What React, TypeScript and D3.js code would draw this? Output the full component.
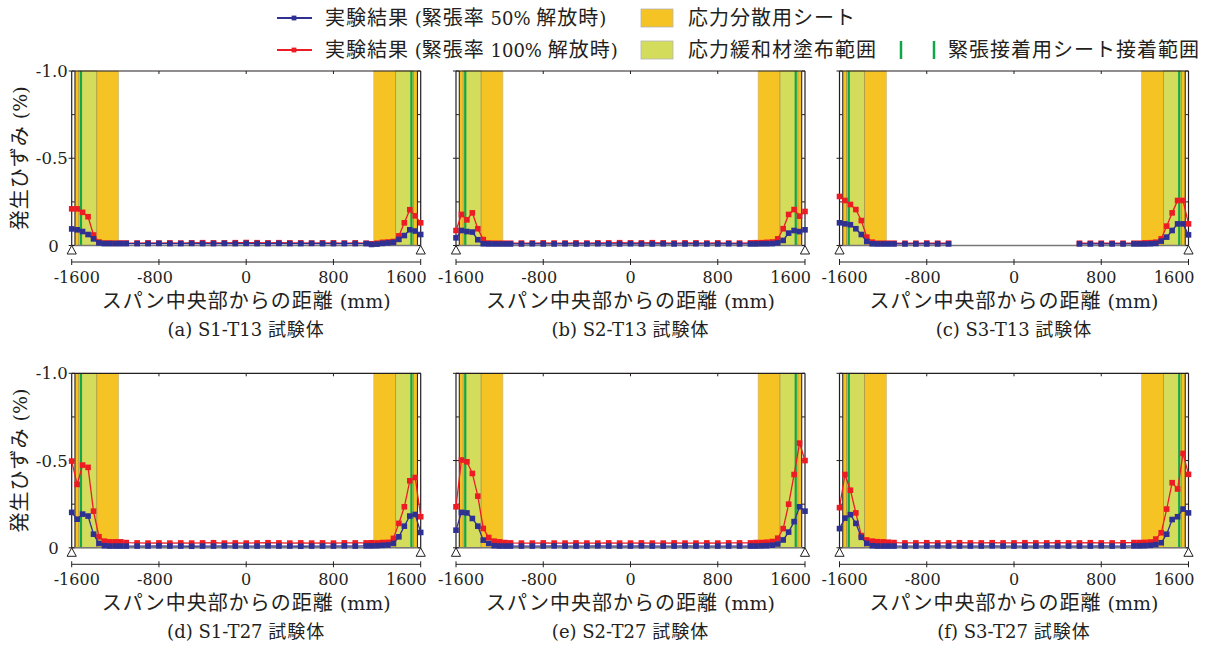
import * as d3 from "d3";

// measurement positions along the span (mm)
const xPositions = [
  -1600, -1550, -1500, -1450, -1400, -1350, -1300, -1250, -1200, -1150, -1100,
  -1000, -900, -800, -700, -600, -500, -400, -300, -200, -100, 0, 100, 200, 300,
  400, 500, 600, 700, 800, 900, 1000,
  1100, 1150, 1200, 1250, 1300, 1350, 1400, 1450, 1500, 1550, 1600,
];

// strain (%) — blue: 50% release, red: 100% release
const s1t13_50 = [
  -0.095, -0.09, -0.08, -0.063, -0.038, -0.015, -0.011, -0.011, -0.011, -0.011, -0.011,
  -0.011, -0.011, -0.012, -0.011, -0.011, -0.012, -0.011, -0.011, -0.012, -0.011, -0.012,
  -0.011, -0.011, -0.012, -0.011, -0.011, -0.012, -0.011, -0.011, -0.011, -0.011,
  -0.011, -0.006, -0.008, -0.012, -0.015, -0.018, -0.035, -0.057, -0.09, -0.083, -0.063,
];
const s1t13_100 = [
  -0.21, -0.21, -0.19, -0.165, -0.06, -0.02, -0.014, -0.014, -0.013, -0.014, -0.014,
  -0.014, -0.015, -0.014, -0.015, -0.014, -0.015, -0.016, -0.015, -0.015, -0.016, -0.017,
  -0.016, -0.015, -0.016, -0.015, -0.015, -0.014, -0.015, -0.015, -0.014, -0.015,
  -0.013, -0.01, -0.013, -0.018, -0.02, -0.023, -0.055, -0.13, -0.205, -0.17, -0.13,
];
const s2t13_50 = [
  -0.044, -0.086, -0.08, -0.077, -0.033, -0.01, -0.009, -0.009, -0.009, -0.009, -0.009,
  -0.009, -0.01, -0.009, -0.009, -0.01, -0.009, -0.009, -0.01, -0.009, -0.009, -0.01,
  -0.009, -0.009, -0.01, -0.009, -0.009, -0.01, -0.009, -0.009, -0.01, -0.009,
  -0.009, -0.009, -0.01, -0.01, -0.011, -0.015, -0.029, -0.071, -0.086, -0.08, -0.09,
];
const s2t13_100 = [
  -0.086, -0.178, -0.147, -0.187, -0.096, -0.034, -0.014, -0.013, -0.013, -0.013, -0.013,
  -0.014, -0.014, -0.015, -0.014, -0.014, -0.015, -0.014, -0.015, -0.015, -0.016, -0.015,
  -0.015, -0.016, -0.015, -0.014, -0.015, -0.015, -0.014, -0.015, -0.014, -0.014,
  -0.015, -0.016, -0.016, -0.018, -0.02, -0.038, -0.096, -0.178, -0.206, -0.168, -0.195,
];
const s3t13_50 = [
  -0.13, -0.124, -0.119, -0.096, -0.063, -0.023, -0.01, -0.009, -0.009, -0.009, -0.009,
  -0.009, -0.009, -0.009, -0.009, -0.009, null, null, null, null, null, null,
  null, null, null, null, null, -0.009, -0.009, -0.009, -0.009, -0.009,
  -0.009, -0.009, -0.009, -0.01, -0.012, -0.025, -0.048, -0.086, -0.124, -0.124, -0.061,
];
const s3t13_100 = [
  -0.281, -0.258, -0.235, -0.206, -0.143, -0.048, -0.019, -0.013, -0.013, -0.013, -0.013,
  -0.013, -0.013, -0.014, -0.013, -0.013, null, null, null, null, null, null,
  null, null, null, null, null, -0.013, -0.013, -0.013, -0.013, -0.013,
  -0.013, -0.013, -0.015, -0.016, -0.019, -0.038, -0.111, -0.187, -0.258, -0.258, -0.124,
];
const s1t27_50 = [
  -0.203, -0.164, -0.193, -0.182, -0.078, -0.025, -0.012, -0.01, -0.01, -0.01, -0.01,
  -0.01, -0.01, -0.011, -0.01, -0.01, -0.009, -0.01, -0.01, -0.011, -0.01, -0.01,
  -0.01, -0.011, -0.01, -0.01, -0.009, -0.01, -0.01, -0.01, -0.011, -0.01,
  -0.011, -0.011, -0.012, -0.014, -0.016, -0.025, -0.063, -0.124, -0.182, -0.191, -0.088,
];
const s1t27_100 = [
  -0.497, -0.363, -0.474, -0.461, -0.21, -0.063, -0.038, -0.034, -0.034, -0.034, -0.03,
  -0.028, -0.027, -0.028, -0.027, -0.028, -0.027, -0.028, -0.029, -0.027, -0.028, -0.027,
  -0.028, -0.029, -0.028, -0.027, -0.028, -0.027, -0.028, -0.027, -0.028, -0.028,
  -0.028, -0.029, -0.028, -0.03, -0.031, -0.054, -0.14, -0.235, -0.384, -0.403, -0.178,
];
const s2t27_50 = [
  -0.101, -0.203, -0.2, -0.168, -0.124, -0.044, -0.025, -0.012, -0.01, -0.01, -0.01,
  -0.01, -0.01, -0.01, -0.011, -0.01, -0.01, -0.01, -0.011, -0.01, -0.01, -0.01,
  -0.011, -0.01, -0.01, -0.01, -0.011, -0.01, -0.01, -0.01, -0.01, -0.01,
  -0.01, -0.01, -0.011, -0.012, -0.015, -0.022, -0.045, -0.09, -0.15, -0.235, -0.21,
];
const s2t27_100 = [
  -0.235, -0.503, -0.493, -0.426, -0.296, -0.111, -0.059, -0.038, -0.034, -0.03, -0.028,
  -0.027, -0.027, -0.028, -0.027, -0.027, -0.028, -0.027, -0.027, -0.028, -0.027, -0.027,
  -0.028, -0.027, -0.027, -0.028, -0.027, -0.027, -0.028, -0.027, -0.028, -0.028,
  -0.028, -0.03, -0.03, -0.032, -0.036, -0.055, -0.11, -0.25, -0.42, -0.6, -0.5,
];
const s3t27_50 = [
  -0.11, -0.17, -0.19, -0.14, -0.06, -0.025, -0.012, -0.01, -0.01, -0.01, -0.01,
  -0.01, -0.01, -0.01, -0.011, -0.01, -0.01, -0.01, -0.01, -0.011, -0.01, -0.01,
  -0.01, -0.01, -0.011, -0.01, -0.01, -0.01, -0.01, -0.011, -0.01, -0.01,
  -0.011, -0.011, -0.012, -0.014, -0.019, -0.029, -0.078, -0.162, -0.178, -0.222, -0.2,
];
const s3t27_100 = [
  -0.23, -0.42, -0.33, -0.2, -0.07, -0.045, -0.038, -0.035, -0.034, -0.032, -0.03,
  -0.028, -0.028, -0.029, -0.028, -0.028, -0.029, -0.028, -0.028, -0.029, -0.028, -0.028,
  -0.029, -0.028, -0.028, -0.029, -0.028, -0.028, -0.029, -0.028, -0.028, -0.029,
  -0.03, -0.03, -0.031, -0.033, -0.05, -0.086, -0.222, -0.373, -0.337, -0.541, -0.421,
];

const series50 = [s1t13_50, s2t13_50, s3t13_50, s1t27_50, s2t27_50, s3t27_50];
const series100 = [s1t13_100, s2t13_100, s3t13_100, s1t27_100, s2t27_100, s3t27_100];
const panelTitles = [
  "(a) S1-T13 試験体",
  "(b) S2-T13 試験体",
  "(c) S3-T13 試験体",
  "(d) S1-T27 試験体",
  "(e) S2-T27 試験体",
  "(f) S3-T27 試験体",
];

const xTicks = [-1600, -800, 0, 800, 1600];
const yTicks = [0, -0.25, -0.5, -0.75, -1.0];
const yTickLabels = [0, -0.5, -1.0];

// zones (mm)
const sheetZones = [[-1570, -1170], [1170, 1570]];
const reliefZones = [[-1535, -1370], [1370, 1535]];
const bondLines = [-1515, 1515];
const beamEnds = [-1570, 1570];

const legendSeries = ["実験結果 (緊張率 50% 解放時)", "実験結果 (緊張率 100% 解放時)"];
const legendZones = ["応力分散用シート", "応力緩和材塗布範囲"];
const legendBond = "緊張接着用シート接着範囲";
const xTitle = "スパン中央部からの距離 (mm)";
const yTitle = "発生ひずみ (%)";

const BLUE = "#2e3192";
const RED = "#ed1c24";
const ORANGE = "#f6c325";
const YGREEN = "#d4dc5c";
const GREEN = "#10a64a";

const SERIF = "'DejaVu Serif', serif";
const GOTHIC = "'Noto Sans CJK JP', sans-serif";

function Mixed({ x, y, text, latin = 16, cjk = 20, anchor = "start", transform }: any) {
  const runs = text.match(/[\u3000-\u9fff\uff00-\uffef]+|[^\u3000-\u9fff\uff00-\uffef]+/g) || [];
  return (
    <text x={x} y={y} textAnchor={anchor} transform={transform} fill="#231f20">
      {runs.map((r: string, i: number) => {
        const isCjk = /[\u3000-\u9fff\uff00-\uffef]/.test(r);
        return (
          <tspan
            key={i}
            fontFamily={isCjk ? GOTHIC : SERIF}
            fontSize={isCjk ? cjk : latin}
            letterSpacing={isCjk ? 1 : 0}
          >
            {r}
          </tspan>
        );
      })}
    </text>
  );
}

function Panel({ left, top, s50, s100, title, showY }: any) {
  const plotW = 349;
  const plotH = 174.5;
  const bottom = top + plotH;
  const x = d3.scaleLinear().domain([-1600, 1600]).range([left, left + plotW]);
  const y = d3.scaleLinear().domain([0, -1]).range([bottom, top]);

  const line = d3
    .line<any>()
    .defined((d) => d.v != null)
    .x((d) => x(d.pos))
    .y((d) => y(d.v));

  const pts50 = xPositions.map((pos, i) => ({ pos, v: s50[i] }));
  const pts100 = xPositions.map((pos, i) => ({ pos, v: s100[i] }));
  const axisY = bottom + 16.5;
  const x0 = x(-1600);
  const x1 = x(1600);
  const m = 5.6;

  return (
    <g>
      {/* zones */}
      {sheetZones.map((z, i) => (
        <rect
          key={"s" + i}
          x={x(Math.min(z[0], z[1]))}
          y={top}
          width={Math.abs(x(z[1]) - x(z[0]))}
          height={plotH}
          fill={ORANGE}
          stroke="#c9b27a"
          strokeWidth={0.6}
        />
      ))}
      {reliefZones.map((z, i) => (
        <rect
          key={"r" + i}
          x={x(Math.min(z[0], z[1]))}
          y={top}
          width={Math.abs(x(z[1]) - x(z[0]))}
          height={plotH}
          fill={YGREEN}
          stroke="#a8914a"
          strokeWidth={0.8}
        />
      ))}
      {bondLines.map((b) => (
        <line key={b} x1={x(b)} x2={x(b)} y1={top} y2={bottom} stroke={GREEN} strokeWidth={2.2} />
      ))}
      {beamEnds.map((b) => (
        <line key={b} x1={x(b)} x2={x(b)} y1={top} y2={bottom} stroke="#231f20" strokeWidth={1} />
      ))}

      {/* frame */}
      <line x1={x0} x2={x1} y1={top} y2={top} stroke="#231f20" strokeWidth={1.2} />
      <line x1={x0} x2={x1} y1={bottom} y2={bottom} stroke="#777" strokeWidth={1.5} />
      <line x1={x0} x2={x0} y1={top} y2={bottom} stroke="#231f20" strokeWidth={1.2} />
      <line x1={x1} x2={x1} y1={top} y2={bottom} stroke="#231f20" strokeWidth={1.2} />
      {xTicks.slice(1, -1).map((t) => (
        <line key={t} x1={x(t)} x2={x(t)} y1={top} y2={top + 3} stroke="#231f20" />
      ))}
      {yTicks.map((t) => (
        <g key={t}>
          <line x1={x0} x2={x0 + 3} y1={y(t)} y2={y(t)} stroke="#231f20" />
          <line x1={x1 - 3} x2={x1} y1={y(t)} y2={y(t)} stroke="#231f20" />
          {yTickLabels.includes(t) && (
            <line x1={x0 - 3} x2={x0} y1={y(t)} y2={y(t)} stroke="#231f20" />
          )}
        </g>
      ))}

      {/* series */}
      <path d={line(pts100) || ""} fill="none" stroke={RED} strokeWidth={1.3} />
      {pts100
        .filter((d) => d.v != null)
        .map((d, i) => (
          <rect key={i} x={x(d.pos) - m / 2} y={y(d.v) - m / 2} width={m} height={m} fill={RED} />
        ))}
      <path d={line(pts50) || ""} fill="none" stroke={BLUE} strokeWidth={1.3} />
      {pts50
        .filter((d) => d.v != null)
        .map((d, i) => (
          <rect key={i} x={x(d.pos) - m / 2} y={y(d.v) - m / 2} width={m} height={m} fill={BLUE} />
        ))}

      {/* supports */}
      {[-1600, 1600].map((p) => (
        <path
          key={p}
          d={`M${x(p)},${bottom} l4.6,8.5 h-9.2 z`}
          fill="#fff"
          stroke="#231f20"
          strokeWidth={1}
        />
      ))}

      {/* y tick labels */}
      {showY &&
        yTickLabels.map((t) => (
          <text
            key={t}
            x={t === 0 ? x0 - 13 : x0 - 4}
            y={y(t) + 6}
            textAnchor="end"
            fontFamily={SERIF}
            fontSize={16.5}
            fill="#231f20"
          >
            {t === 0 ? "0" : d3.format(".1f")(t).replace("−", "-")}
          </text>
        ))}
      {showY && (
        <Mixed
          x={0}
          y={0}
          text={yTitle}
          latin={19}
          cjk={20}
          anchor="middle"
          transform={`translate(27,${(top + bottom) / 2}) rotate(-90)`}
        />
      )}

      {/* x axis */}
      <line x1={x0} x2={x1} y1={axisY} y2={axisY} stroke="#231f20" strokeWidth={1} />
      {xTicks.map((t, i) => {
        const first = i === 0;
        const last = i === xTicks.length - 1;
        return (
          <g key={t}>
            <line x1={x(t)} x2={x(t)} y1={axisY - 3} y2={axisY + 3} stroke="#231f20" />
            <text
              x={first ? x(t) - 18 : last ? x(t) + 6 : x(t) + (t < 0 ? -4 : 0)}
              y={axisY + 21}
              textAnchor={first ? "start" : last ? "end" : "middle"}
              fontFamily={SERIF}
              fontSize={16}
              fill="#231f20"
            >
              {String(t)}
            </text>
          </g>
        );
      })}
      <Mixed x={(x0 + x1) / 2} y={axisY + 46} text={xTitle} latin={19} cjk={20} anchor="middle" />
      <Mixed x={(x0 + x1) / 2} y={axisY + 74} text={title} latin={18} cjk={18} anchor="middle" />
    </g>
  );
}

function Legend() {
  const rows = [18, 50];
  const colors = [BLUE, RED];
  const zoneFills = [ORANGE, YGREEN];
  return (
    <g>
      {legendSeries.map((t, i) => (
        <g key={t}>
          <line x1={277} x2={312} y1={rows[i]} y2={rows[i]} stroke={colors[i]} strokeWidth={1.8} />
          <rect x={294 - 2.4} y={rows[i] - 2.4} width={4.8} height={4.8} fill={colors[i]} />
          <Mixed x={325} y={rows[i] + 7} text={t} latin={18} cjk={20} />
        </g>
      ))}
      {legendZones.map((t, i) => (
        <g key={t}>
          <rect
            x={641}
            y={rows[i] - 9}
            width={32}
            height={18}
            fill={zoneFills[i]}
            stroke="#b5b5b5"
            strokeWidth={0.8}
          />
          <Mixed x={688} y={rows[i] + 7} text={t} latin={18} cjk={20} />
        </g>
      ))}
      {[901, 934].map((gx) => (
        <line key={gx} x1={gx} x2={gx} y1={41} y2={59} stroke={GREEN} strokeWidth={2.5} />
      ))}
      <Mixed x={948} y={57} text={legendBond} latin={18} cjk={20} />
    </g>
  );
}

export default function App() {
  const colLeft = [71.7, 456, 839.5];
  const rowTop = [71, 373.3];
  return (
    <svg
      width={1206}
      height={646}
      style={{ position: "absolute", left: 0, top: 0, background: "#fff" }}
    >
      <rect width={1206} height={646} fill="#fff" />
      <Legend />
      {panelTitles.map((title, i) => (
        <Panel
          key={title}
          left={colLeft[i % 3]}
          top={rowTop[Math.floor(i / 3)]}
          s50={series50[i]}
          s100={series100[i]}
          title={title}
          showY={i % 3 === 0}
        />
      ))}
    </svg>
  );
}
